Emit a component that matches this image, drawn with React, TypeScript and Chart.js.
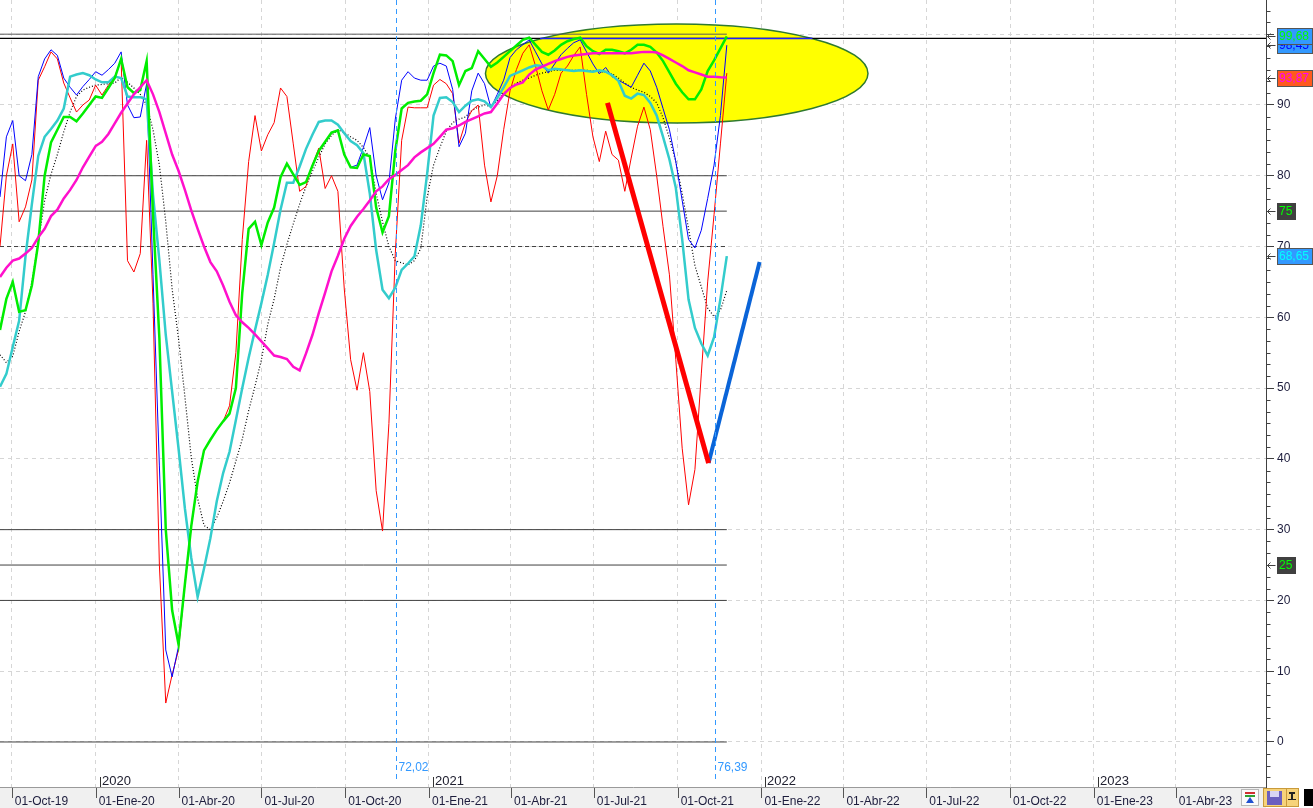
import React, { useEffect, useRef } from "react";
import { Chart, registerables } from "chart.js";

Chart.register(...registerables);

// weekly closes, first one on 18-Sep-19
const firstWeek = "2019-09-18";

const redLine = [
  70, 80, 84.5, 73.5, 75.6, 79.4, 93.5, 95.4, 97.5, 96.5,
  93.1, 91, 89, 90, 90.7, 92.8, 91.4, 92.8, 94, 96.4,
  68, 66.4, 69, 85, 62, 25, 5.5, 9.5, 13, 22.3,
  30.5, 36.8, 41.2, 42.7, 44.1, 45.3, 47.5, 55, 71, 82,
  88.5, 83.5, 85.8, 87.5, 92.4, 91.2, 84.5, 77.8, 78.5, 81.5,
  83.9, 78.2, 80, 77.8, 64, 54, 49.7, 55, 49.5, 35.5,
  29.8, 45, 69, 85, 89.7, 89.6, 89.6, 89.6, 92.8, 93.6,
  93, 91.6, 84.6, 87.5, 89.2, 90, 81.5, 76.3, 80, 86.5,
  92, 95, 97.3, 98.5, 95.5, 92, 89.3, 91.5, 94.5, 95.5,
  97, 98.2, 91.5, 85.5, 82, 86.3, 83, 82.2, 77.8, 82.5,
  87, 89.7, 86.5, 80, 72.8, 66, 54, 41.5, 33.5, 38.5,
  52, 65, 74.5, 84.5, 94.5,
];

const blueLine = [
  77, 85.5, 87.8, 80, 79.3, 83, 94, 96.5, 97.8, 97,
  93.8, 92.5, 91.4, 92.6, 93.6, 94.7, 94.2, 95, 95.9, 97.5,
  90, 88.2, 88.3, 93, 66, 39, 13, 9.2, 13.5, 22.3,
  30.5, 36.8, 41.2, 42.7, 44.1, 45.3, 46.4, 50, 63.5, 72.5,
  73.5, 70.2, 73.4, 75.5, 79.8, 81.7, 80.2, 78.7, 79.1, 81.4,
  83.5, 84.8, 86.1, 86.4, 83, 81.2, 81.5, 84, 86.8, 80,
  76.6, 79, 88, 93.5, 94.7, 93.8, 93.5, 93.5, 95.5, 95.9,
  95.5, 92.2, 84.1, 86, 92, 94.5, 93, 89.6, 91.5, 93.5,
  96.7, 97.8, 98.5, 99.2, 97.5, 95.8, 94.5, 95.8, 97.1, 98,
  98.8, 99.2, 97.5, 95.8, 94.4, 95.3, 94, 93.5, 93, 92.5,
  94.2, 95.9, 94.8, 92.5, 89.5, 86.5, 82, 76.5, 71, 69.8,
  72.3, 76.8, 81.5, 88.5, 98.45,
];

const greenLine = [
  58.2, 62.6, 65, 60.8, 61, 64.5, 70.5, 80, 84.7, 86.5,
  88.3, 88.3, 87.7, 88.8, 90, 91.2, 91, 92.4, 93.8, 96.5,
  92.5, 91.7, 92.1, 96.2, 74.5, 57, 30, 18.6, 13.8, 22.3,
  30.5, 36.8, 41.2, 42.7, 44.1, 45.3, 46.4, 50, 63.5, 72.5,
  73.5, 70.2, 73.4, 75.5, 79.8, 81.7, 80.2, 78.7, 79.1, 81.4,
  83.5, 84.8, 86.1, 86.4, 83, 81.2, 81.1, 83, 82.8, 75.5,
  72, 74.3, 83.5, 89.5, 90.3, 90.5, 90.6, 91.5, 94.5, 97.1,
  97, 96.2, 92.8, 94.8, 95.2, 97.6, 96.5, 95.4, 96, 96.8,
  97.6, 98.4, 99.2, 99.5, 98.5, 97.5, 97.1, 97.7, 98.5, 99,
  99.3, 99.5, 98.3, 97.6, 97.2, 97.8, 97.8, 97.6, 97.3, 97.8,
  98.5, 98.5, 98.2, 97.4, 96.2, 94.6, 93, 91.8, 90.8, 90.8,
  92.2, 94.8, 96.3, 98, 99.68,
];

const cyanLine = [
  50.2, 52, 55.8, 59.5, 68.6, 76, 82.8, 85.5, 86.6, 87.8,
  89.5, 94, 94.3, 94.5, 94.2, 93.6, 93.2, 93.2, 94, 93.8,
  91.2, 91.1, 91.1, 90.8, 77.3, 68, 57.5, 49.5, 41.5, 33,
  26, 20.5, 24.5, 28.8, 34, 38, 41, 45.5, 50, 54.3,
  58.2, 62, 66, 70.5, 75.2, 79, 79, 81.3, 83.8, 85.8,
  87.6, 87.8, 87.8, 87.2, 86, 84.9, 84.3, 83.2, 77.5, 69.5,
  63.9, 62.7, 64.2, 66.7, 67.6, 68.6, 73, 80.3, 88.5, 91,
  91.1, 90.4, 89, 89.9, 90.6, 90.8, 90.5, 89.7, 91, 92.5,
  94.1, 94.5, 94.9, 95.3, 95.6, 95.5, 94.9, 95.1, 95, 94.9,
  94.8, 94.9, 94.8, 94.7, 94.9, 94.7, 94.2, 93.4, 91.3, 90.9,
  91.6, 91.4, 90.3, 88.5, 85.5, 82.3, 78.3, 71, 62.5, 58.5,
  56.3, 54.6, 57.2, 62.6, 68.65,
];

const dottedLine = [
  54.7, 53.6, 54.5, 58, 60.8, 65, 70.5, 76.5, 80.2, 83,
  86.2, 89, 91.2, 92.1, 92.5, 92.8, 92.9, 93, 93.1, 93.9,
  93.2, 92.4, 91.5, 90, 86.5, 81.5, 73.5, 64, 57, 48.8,
  40.2, 34.4, 30.6, 30, 31.7, 34, 36.6, 39.7, 42.8, 46.8,
  50.3, 54, 59, 62.6, 67, 70.3, 73.2, 76, 78.5, 80.6,
  82.6, 84.5, 85.7, 86.5, 86.1, 85.5, 85, 84, 82.5, 77.5,
  73.5, 70, 68, 67.7, 67.4, 68, 69.7, 77, 81.5, 84,
  86.3, 87.5, 88, 88.3, 89.2, 89.7, 90, 89.8, 90.6, 91.7,
  92.4, 93.1, 93.5, 93.8, 94.2, 94.5, 94.7, 94.9, 94.9, 94.9,
  94.9, 94.9, 94.9, 94.8, 94.7, 94.6, 94.4, 93.8, 93.1, 92.5,
  92.1, 91.8, 91.2, 90.3, 88.2, 85.3, 82, 77.5, 72.5, 67.3,
  64.3, 61.3, 60.1, 61, 63.8,
];

const magentaLine = [
  65.7, 67, 68, 68.3, 69, 69.8, 71.3, 72.5, 74.3, 75.2,
  76.8, 78, 79.4, 81.2, 82.7, 84.2, 84.8, 85.9, 87.4, 88.9,
  90.2, 91.5, 92.5, 93.5, 91.5, 89, 86, 83, 80.7, 78,
  75.1, 72.5, 70, 67.8, 66.5, 64.5, 62.2, 60.3, 59.3, 58.5,
  57.6, 56.6, 55.6, 54.6, 54.4, 54.1, 53, 52.5, 54.9, 57.5,
  60.6, 63.5, 66.5, 68.7, 71.1, 72.9, 74.2, 75.3, 76.5, 77.8,
  78.5, 79.5, 80.1, 80.8, 81.5, 82.6, 83.3, 83.9, 84.5, 85.5,
  86.5, 86.7, 87.1, 87.6, 88, 88.4, 88.8, 89, 90.2, 91.5,
  92.4, 92.9, 93.2, 94.3, 95, 95.4, 95.8, 96.2, 96.5, 96.8,
  97, 97.1, 97.2, 97.3, 97.3, 97.3, 97.3, 97.3, 97.3, 97.3,
  97.4, 97.5, 97.5, 97.4, 97, 96.5, 96, 95.5, 94.9, 94.6,
  94.3, 94, 94, 93.9, 93.87,
];

const quarterDates = [
  "2019-10-01", "2020-01-01", "2020-04-01", "2020-07-01", "2020-10-01",
  "2021-01-01", "2021-04-01", "2021-07-01", "2021-10-01", "2022-01-01",
  "2022-04-01", "2022-07-01", "2022-10-01", "2023-01-01", "2023-04-01",
];
const quarterLabels = [
  "01-Oct-19", "01-Ene-20", "01-Abr-20", "01-Jul-20", "01-Oct-20",
  "01-Ene-21", "01-Abr-21", "01-Jul-21", "01-Oct-21", "01-Ene-22",
  "01-Abr-22", "01-Jul-22", "01-Oct-22", "01-Ene-23", "01-Abr-23",
];
const yearDates = ["2020-01-01", "2021-01-01", "2022-01-01", "2023-01-01"];
const yearLabels = ["2020", "2021", "2022", "2023"];
const xRange = ["2019-09-18", "2023-07-09"];
const yTicks = [0, 10, 20, 30, 40, 50, 60, 70, 80, 90, 100];

const levels = [100, 80, 75, 70, 30, 25, 20, 0];
const dashedLevel = 70;
const lastCloseLevel = 99.4;
const topSegment = ["2021-05-03", "2022-02-26"];
const redTrend: [string, number][] = [["2021-07-16", 90.3], ["2021-11-04", 39.4]];
const blueTrend: [string, number][] = [["2021-11-04", 39.4], ["2021-12-30", 67.8]];
const ellipseCenter: [string, number] = ["2021-09-30", 94.45];
const ellipseHalf = [210, 7.0]; // days, points
const markerDates = ["2020-11-26", "2021-11-11"];
const markerLabels = ["72,02", "76,39"];

const FONT = '"Liberation Sans", Arial, sans-serif';

const toDay = (iso: string) => {
  const [y, m, d] = iso.split("-").map(Number);
  return (Date.UTC(y, m - 1, d) - Date.UTC(2019, 9, 1)) / 86400000;
};
const lastOf = (a: number[]) => a[a.length - 1];
const fmt = (v: number) =>
  Number.isInteger(v) ? String(v) : v.toFixed(2).replace(".", ",");

const weekDays = redLine.map((_, i) => toDay(firstWeek) + 7 * i);
const endDay = weekDays[weekDays.length - 1];
const series = (vals: number[]) => vals.map((v, i) => ({ x: weekDays[i], y: v }));

const tags = [
  { value: lastOf(blueLine), bg: "#3399ff", fg: "#0000ff", border: true },
  { value: lastOf(greenLine), bg: "#3399ff", fg: "#00ff00", border: true },
  { value: lastOf(magentaLine), bg: "#ff5a1e", fg: "#ff00ff", border: true },
  { value: 75, bg: "#404040", fg: "#00ff00", border: false },
  { value: lastOf(cyanLine), bg: "#3399ff", fg: "#00ffff", border: true },
  { value: 25, bg: "#404040", fg: "#00ff00", border: false },
];

const decor = {
  id: "decor",
  beforeDatasetsDraw(chart: any) {
    const { ctx, chartArea, scales } = chart;
    const { x, y } = scales;
    const cx = x.getPixelForValue(toDay(ellipseCenter[0]));
    const cy = y.getPixelForValue(ellipseCenter[1]);
    const rx = x.getPixelForValue(toDay(ellipseCenter[0]) + ellipseHalf[0]) - cx;
    const ry = cy - y.getPixelForValue(ellipseCenter[1] + ellipseHalf[1]);
    ctx.save();
    ctx.beginPath();
    ctx.rect(chartArea.left, chartArea.top, chartArea.width, chartArea.height);
    ctx.clip();
    ctx.beginPath();
    ctx.ellipse(cx, cy, rx, ry, 0, 0, Math.PI * 2);
    ctx.fillStyle = "#ffff00";
    ctx.fill();
    ctx.lineWidth = 1.5;
    ctx.strokeStyle = "#2f7a2f";
    ctx.stroke();
    ctx.restore();
  },
  afterDraw(chart: any) {
    const { ctx, chartArea, scales } = chart;
    const { x, y } = scales;
    ctx.save();

    // cursor markers
    ctx.font = `12px ${FONT}`;
    ctx.textBaseline = "middle";
    markerDates.forEach((d, i) => {
      const px = Math.round(x.getPixelForValue(toDay(d))) + 0.5;
      ctx.strokeStyle = "#3399ff";
      ctx.lineWidth = 1;
      ctx.setLineDash([5, 4]);
      ctx.beginPath();
      ctx.moveTo(px, chartArea.top);
      ctx.lineTo(px, chartArea.bottom - 7);
      ctx.stroke();
      ctx.setLineDash([]);
      ctx.fillStyle = "#3399ff";
      ctx.textAlign = "left";
      ctx.fillText(markerLabels[i], px + 2, 768);
    });

    // year marks
    ctx.font = `13px ${FONT}`;
    yearDates.forEach((d, i) => {
      const px = Math.round(x.getPixelForValue(toDay(d))) + 4.5;
      ctx.strokeStyle = "#333";
      ctx.beginPath();
      ctx.moveTo(px, chartArea.bottom - 10);
      ctx.lineTo(px, chartArea.bottom);
      ctx.stroke();
      ctx.fillStyle = "#202030";
      ctx.fillText(yearLabels[i], px + 1.5, chartArea.bottom - 6);
    });

    // separators in the date band
    ctx.strokeStyle = "#555";
    quarterDates.forEach((d) => {
      const px = Math.round(x.getPixelForValue(toDay(d))) + 0.5;
      ctx.beginPath();
      ctx.moveTo(px, chartArea.bottom + 1);
      ctx.lineTo(px, chartArea.bottom + 11);
      ctx.stroke();
    });

    // minor ticks on the value axis
    const axisX = Math.round(y.left) + 0.5;
    ctx.strokeStyle = "#404040";
    const step = 10 / 6;
    for (let k = Math.ceil(y.min / step); k * step <= y.max; k++) {
      if (k % 6 === 0) continue;
      const py = Math.round(y.getPixelForValue(k * step)) + 0.5;
      ctx.beginPath();
      ctx.moveTo(axisX, py);
      ctx.lineTo(axisX + 4, py);
      ctx.stroke();
    }

    // last value tags
    ctx.font = `12px ${FONT}`;
    ctx.textAlign = "left";
    tags.forEach((t) => {
      const py = Math.round(y.getPixelForValue(t.value));
      const text = fmt(t.value);
      const w = Math.ceil(ctx.measureText(text).width) + 5;
      ctx.strokeStyle = "#404040";
      ctx.beginPath();
      ctx.moveTo(axisX + 1, py + 0.5);
      ctx.lineTo(axisX + 9, py + 0.5);
      ctx.moveTo(axisX + 1, py + 0.5);
      ctx.lineTo(axisX + 4, py - 2.5);
      ctx.moveTo(axisX + 1, py + 0.5);
      ctx.lineTo(axisX + 4, py + 3.5);
      ctx.stroke();
      const bx = axisX + 10.5;
      ctx.fillStyle = t.bg;
      ctx.fillRect(bx, py - 8, w, 17);
      if (t.border) {
        ctx.strokeStyle = "#555";
        ctx.strokeRect(bx + 0.5, py - 7.5, w - 1, 16);
      }
      ctx.fillStyle = t.fg;
      ctx.fillText(text, bx + 2, py + 1);
    });

    // toolbar icons in the corner
    ctx.fillStyle = "#fafafa";
    ctx.strokeStyle = "#b8b8b8";
    ctx.fillRect(1241, 789, 18, 17);
    ctx.strokeRect(1241.5, 789.5, 17, 16);
    ctx.fillStyle = "#d03030";
    ctx.fillRect(1245, 792, 10, 2);
    ctx.fillStyle = "#30a030";
    ctx.fillRect(1245, 795, 10, 2);
    ctx.fillStyle = "#2050d0";
    ctx.beginPath();
    ctx.moveTo(1250, 797);
    ctx.lineTo(1254, 803);
    ctx.lineTo(1246, 803);
    ctx.fill();
    ctx.fillStyle = "#f6d37a";
    ctx.strokeStyle = "#c99a3a";
    ctx.fillRect(1263, 788, 36, 19);
    ctx.strokeRect(1263.5, 788.5, 35, 18);
    ctx.beginPath();
    ctx.moveTo(1286.5, 789);
    ctx.lineTo(1286.5, 806);
    ctx.stroke();
    ctx.fillStyle = "#6b5fbf";
    ctx.fillRect(1267, 791, 15, 14);
    ctx.fillStyle = "#d8d4f4";
    ctx.fillRect(1270, 791, 9, 6);
    ctx.fillStyle = "#222";
    ctx.fillRect(1289, 792, 6, 2);
    ctx.fillRect(1291, 794, 2, 6);
    ctx.fillRect(1288, 799, 8, 1);
    ctx.fillStyle = "#000";
    ctx.fillRect(1304, 789, 9, 17);

    ctx.restore();
  },
};

export default function App() {
  const canvasRef = useRef<HTMLCanvasElement | null>(null);

  useEffect(() => {
    const ctx = canvasRef.current?.getContext("2d");
    if (!ctx) return;

    const line = (data: any[], color: string, width: number, order: number, extra: any = {}) => ({
      data,
      borderColor: color,
      borderWidth: width,
      pointRadius: 0,
      fill: false,
      tension: 0,
      order,
      ...extra,
    });

    const levelSets = levels.map((lvl) =>
      line(
        [
          { x: weekDays[0], y: lvl },
          { x: endDay, y: lvl },
        ],
        lvl === 100 ? "#5a5a5a" : "#404040",
        1,
        20,
        lvl === dashedLevel ? { borderDash: [4, 3] } : {}
      )
    );

    const chart = new Chart(ctx, {
      type: "line",
      data: {
        datasets: [
          line(redTrend.map(([d, v]) => ({ x: toDay(d), y: v })), "#ff0000", 5, 0),
          line(blueTrend.map(([d, v]) => ({ x: toDay(d), y: v })), "#0a64d8", 4, 1),
          line(series(magentaLine), "#ff10cc", 2.5, 2),
          line(series(greenLine), "#00ee00", 2.5, 3),
          line(series(cyanLine), "#33cccc", 2.5, 4),
          line(series(blueLine), "#0000ff", 1, 5),
          line(series(redLine), "#ff0000", 1, 6),
          line(series(dottedLine), "#000000", 1.2, 7, { borderDash: [1, 2] }),
          line(
            topSegment.map((d) => ({ x: toDay(d), y: lastCloseLevel })),
            "#2020ff",
            1.5,
            8
          ),
          line(
            xRange.map((d) => ({ x: toDay(d), y: lastCloseLevel })),
            "#000000",
            1.2,
            9
          ),
          ...levelSets,
        ],
      },
      options: {
        responsive: false,
        animation: false,
        events: [],
        layout: { padding: 0, autoPadding: false },
        plugins: {
          legend: { display: false },
          tooltip: { enabled: false },
        },
        scales: {
          x: {
            type: "linear",
            position: "bottom",
            min: toDay(xRange[0]),
            max: toDay(xRange[1]),
            backgroundColor: "#f0f0f0",
            afterBuildTicks: (s: any) => {
              s.ticks = quarterDates.map((d) => ({ value: toDay(d) }));
            },
            afterFit: (s: any) => {
              s.height = 21;
              s.paddingLeft = 0;
              s.paddingRight = 0;
            },
            ticks: {
              autoSkip: false,
              maxRotation: 0,
              minRotation: 0,
              align: "start",
              labelOffset: 3,
              padding: 7,
              color: "#1c1c3c",
              font: { family: FONT, size: 12 },
              callback: (_v: any, i: number) => quarterLabels[i],
            },
            grid: { color: "#d6d6d6", drawTicks: false, lineWidth: 1 },
            border: { display: true, color: "#9a9a9a", dash: [4, 4] },
          },
          y: {
            type: "linear",
            position: "right",
            min: -6.36,
            max: 104.83,
            afterBuildTicks: (s: any) => {
              s.ticks = yTicks.map((v) => ({ value: v }));
            },
            afterFit: (s: any) => {
              s.width = 47;
              s.paddingTop = 0;
              s.paddingBottom = 0;
            },
            ticks: {
              color: "#1c1c3c",
              font: { family: FONT, size: 12 },
              padding: 3,
            },
            grid: {
              color: "#d6d6d6",
              tickColor: "#404040",
              tickLength: 8,
              tickBorderDash: [],
              lineWidth: 1,
            },
            border: { display: true, color: "#404040", dash: [4, 4] },
          },
        },
      },
      plugins: [decor],
    } as any);

    return () => chart.destroy();
  }, []);

  return (
    <div style={{ position: "fixed", left: 0, top: 0, width: 1313, height: 808, background: "#fff" }}>
      <canvas ref={canvasRef} width={1313} height={808} />
    </div>
  );
}
